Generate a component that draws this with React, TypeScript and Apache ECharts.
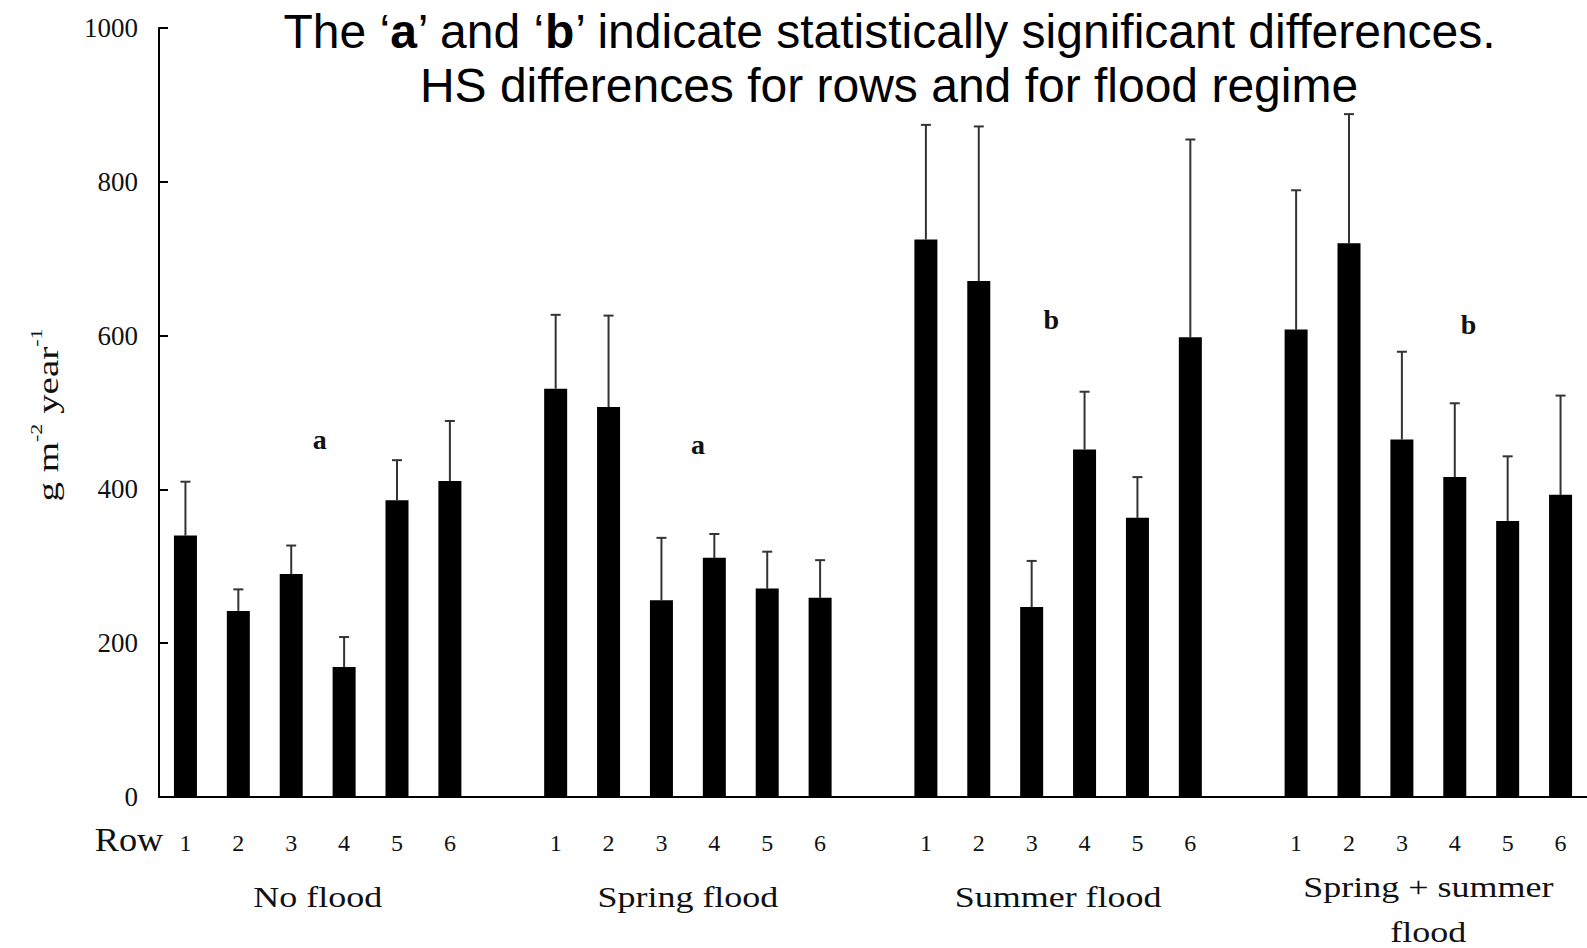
import React, { useEffect, useRef } from 'react';
import * as echarts from 'echarts';

const SERIF = '"Liberation Serif", "DejaVu Serif", serif';
const SANS = '"Liberation Sans", Arial, sans-serif';

const groups = ['No flood', 'Spring flood', 'Summer flood', 'Spring + summer\nflood'];
const rows = ['1', '2', '3', '4', '5', '6'];

const noFlood = [340, 242, 290, 169, 386, 411];
const noFloodErr = [70, 28, 37, 39, 52, 78];
const springFlood = [531, 507, 256, 311, 271, 259];
const springFloodErr = [96, 119, 81, 31, 48, 49];
const summerFlood = [725, 671, 247, 452, 363, 598];
const summerFloodErr = [149, 201, 60, 75, 53, 257];
const springSummerFlood = [608, 720, 465, 416, 359, 393];
const springSummerFloodErr = [181, 168, 114, 96, 84, 129];

const letters = ['a', 'a', 'b', 'b'];
const letterX = [2.54, 9.69, 16.37, 24.26];
const letterY = [465, 459, 621, 615];

const yTicks = { min: 0, max: 1000, interval: 200 };

const means = [noFlood, springFlood, summerFlood, springSummerFlood];
const errs = [noFloodErr, springFloodErr, summerFloodErr, springSummerFloodErr];

const categories: string[] = [];
const barData: (number | string)[] = [];
const errData: number[][] = [];
const groupCenters: number[] = [];
means.forEach((g, gi) => {
  const start = categories.length;
  g.forEach((v, i) => {
    const idx = categories.length;
    categories.push(rows[i]);
    barData.push(v);
    errData.push([idx, v, v + errs[gi][i]]);
  });
  groupCenters.push(start + (rows.length - 1) / 2);
  if (gi < means.length - 1) {
    categories.push('');
    barData.push('-');
  }
});

export default function App() {
  const ref = useRef<HTMLDivElement>(null);
  useEffect(() => {
    const chart = echarts.init(ref.current!, null, { renderer: 'svg' });
    const option: any = {
      animation: false,
      backgroundColor: '#fff',
      grid: { left: 159, right: -2, top: 28, bottom: 151 },
      xAxis: [
        {
          type: 'category',
          data: categories,
          boundaryGap: true,
          axisLine: { show: true, onZero: false, lineStyle: { color: '#000', width: 2 } },
          axisTick: { show: false },
          axisLabel: { interval: 0, margin: 34, fontSize: 24, fontFamily: SERIF, color: '#111' },
          splitLine: { show: false },
        },
        {
          type: 'value',
          min: -0.5,
          max: 26.5,
          show: false,
          gridIndex: 0,
          axisLine: { onZero: false },
        },
      ],
      yAxis: {
        type: 'value',
        min: yTicks.min,
        max: yTicks.max,
        interval: yTicks.interval,
        axisLine: { show: true, onZero: false, lineStyle: { color: '#000', width: 2 } },
        axisTick: { show: true, inside: true, length: 9, lineStyle: { color: '#000', width: 2 } },
        axisLabel: {
          margin: 21,
          fontSize: 27,
          fontFamily: SERIF,
          color: '#111',
          formatter: (v: number) => String(v),
        },
        splitLine: { show: false },
      },
      series: [
        {
          type: 'bar',
          data: barData,
          barWidth: 23,
          xAxisIndex: 0,
          yAxisIndex: 0,
          itemStyle: { color: '#000' },
        },
        {
          type: 'custom',
          xAxisIndex: 0,
          yAxisIndex: 0,
          data: errData,
          renderItem: (params: any, api: any) => {
            const x = api.value(0);
            const lo = api.coord([x, api.value(1)]);
            const hi = api.coord([x, api.value(2)]);
            return {
              type: 'group',
              children: [
                { type: 'line', shape: { x1: lo[0], y1: lo[1], x2: hi[0], y2: hi[1] }, style: { stroke: '#333', lineWidth: 2 } },
                { type: 'line', shape: { x1: hi[0] - 5, y1: hi[1], x2: hi[0] + 5, y2: hi[1] }, style: { stroke: '#333', lineWidth: 2 } },
              ],
            };
          },
        },
        {
          type: 'custom',
          xAxisIndex: 1,
          yAxisIndex: 0,
          data: letterX.map((x, i) => [x, letterY[i]]),
          renderItem: (params: any, api: any) => {
            const p = api.coord([api.value(0), api.value(1)]);
            return {
              type: 'text',
              x: p[0],
              y: p[1],
              style: {
                text: letters[params.dataIndex],
                fontSize: 28,
                fontWeight: 'bold',
                fontFamily: SERIF,
                fill: '#111',
                align: 'center',
                verticalAlign: 'middle',
              },
            };
          },
        },
        {
          type: 'custom',
          xAxisIndex: 1,
          yAxisIndex: 0,
          data: groupCenters.map((c) => [c, 0]),
          renderItem: (params: any, api: any) => {
            const p = api.coord([api.value(0), api.value(1)]);
            const label = groups[params.dataIndex];
            const lines = label.split('\n').length;
            return {
              type: 'text',
              x: p[0],
              y: p[1] + 100 + (lines - 1) * 12,
              scaleX: 1.2,
              style: {
                text: label,
                fontSize: 30,
                lineHeight: 45,
                fontFamily: SERIF,
                fill: '#111',
                align: 'center',
                verticalAlign: 'middle',
              },
            };
          },
        },
      ],
      graphic: [
        {
          type: 'text',
          x: 890,
          y: 31,
          style: {
            text: 'The ‘{b|a}’ and ‘{b|b}’ indicate statistically significant differences.',
            rich: { b: { fontWeight: 'bold', fontSize: 48, fontFamily: SANS, fill: '#000' } },
            fontSize: 48,
            fontFamily: SANS,
            fill: '#000',
            align: 'center',
            verticalAlign: 'middle',
          },
        },
        {
          type: 'text',
          x: 889,
          y: 85,
          style: {
            text: 'HS differences for rows and for flood regime',
            fontSize: 48,
            fontFamily: SANS,
            fill: '#000',
            align: 'center',
            verticalAlign: 'middle',
          },
        },
        {
          type: 'text',
          x: 45,
          y: 415,
          rotation: Math.PI / 2,
          scaleX: 1.3,
          style: {
            text: '{n|g m}{s|-2}{n| year}{s|-1}',
            rich: {
              n: { fontSize: 30, fontFamily: SERIF, lineHeight: 36, verticalAlign: 'bottom', fill: '#111' },
              s: { fontSize: 17, fontFamily: SERIF, verticalAlign: 'top', fill: '#111' },
            },
            fill: '#111',
            align: 'center',
            verticalAlign: 'middle',
          },
        },
        {
          type: 'text',
          x: 129,
          y: 840,
          scaleX: 1.1,
          style: {
            text: 'Row',
            fontSize: 33,
            fontFamily: SERIF,
            fill: '#111',
            align: 'center',
            verticalAlign: 'middle',
          },
        },
      ],
    };
    chart.setOption(option);
    return () => chart.dispose();
  }, []);
  return (
    <div
      ref={ref}
      style={{ position: 'fixed', left: 0, top: 0, width: 1587, height: 948, background: '#fff' }}
    />
  );
}
